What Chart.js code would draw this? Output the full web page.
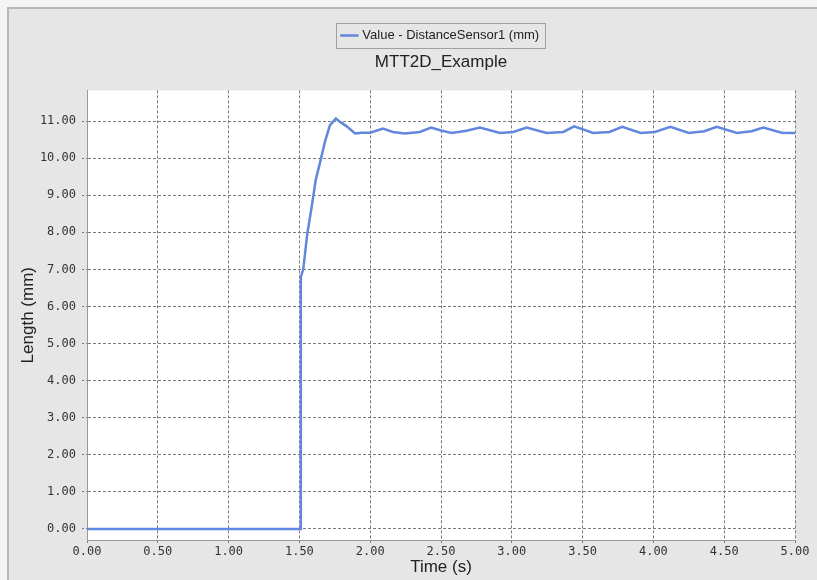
<!DOCTYPE html>
<html>
<head>
<meta charset="utf-8">
<script src="https://cdn.jsdelivr.net/npm/chart.js@4/dist/chart.umd.min.js"></script>
<style>
    html, body { margin: 0; padding: 0; background: #f4f4f4; }
    #wrap { width: 817px; height: 580px; position: relative; }
</style>
</head>
<body>
<div id="wrap"><canvas id="canvas-1" width="817" height="580"></canvas></div>
<script>
var seriesLabel = 'Value - DistanceSensor1 (mm)';
var chartTitle = 'MTT2D_Example';
var timeValues = [0, 1.505, 1.51, 1.527, 1.556, 1.587, 1.615, 1.65, 1.68, 1.716, 1.758, 1.787, 1.834, 1.893,
    1.94, 2.0, 2.09, 2.16, 2.245, 2.35, 2.43, 2.5, 2.575, 2.68, 2.775, 2.917, 3.01, 3.105, 3.246, 3.364,
    3.44, 3.575, 3.69, 3.78, 3.91, 4.01, 4.12, 4.25, 4.36, 4.447, 4.59, 4.694, 4.776, 4.906, 5.0];
var lengthValues = [0, 0, 6.8, 7.0, 7.97, 8.69, 9.41, 9.95, 10.44, 10.89, 11.07, 10.98, 10.86, 10.67,
    10.69, 10.69, 10.80, 10.71, 10.67, 10.71, 10.83, 10.75, 10.68, 10.74, 10.83, 10.68, 10.71, 10.83, 10.68, 10.71,
    10.86, 10.68, 10.71, 10.85, 10.68, 10.71, 10.85, 10.68, 10.73, 10.85, 10.68, 10.73, 10.83, 10.69, 10.68];
var yTickValues = [0, 1, 2, 3, 4, 5, 6, 7, 8, 9, 10, 11];

(function () {
    'use strict';

    var points = timeValues.map(function (t, i) {
        return {x: t, y: lengthValues[i]};
    });

    // frame + white plot area, plus the box round the legend
    var framePlugin = {
        id: 'frame',
        beforeDraw: function (chart) {
            var c = chart.ctx, a = chart.chartArea;
            c.save();
            c.fillStyle = '#f4f4f4';
            c.fillRect(0, 0, chart.width, chart.height);
            c.fillStyle = '#b8b8b8';
            c.fillRect(7, 7, chart.width - 7, chart.height - 7);
            c.fillStyle = '#e6e6e6';
            c.fillRect(9, 9, chart.width - 9, chart.height - 9);
            c.fillStyle = '#ffffff';
            c.fillRect(a.left, a.top, a.right - a.left, a.bottom - a.top);
            c.restore();
        },
        afterDraw: function (chart) {
            var c = chart.ctx, hb = chart.legend.legendHitBoxes[0];
            if (!hb) {
                return;
            }
            var cy = hb.top + hb.height / 2;
            c.save();
            c.strokeStyle = '#a0a0a0';
            c.lineWidth = 1;
            c.strokeRect(Math.round(hb.left - 7) + 0.5, Math.round(cy - 13) + 0.5,
                Math.round(hb.width + 13), 25);
            c.restore();
        }
    };

    var ctx = document.getElementById('canvas-1');
    //noinspection JSUnusedLocalSymbols
    var chart = new Chart(ctx, {
        type: 'line',
        data: {
            datasets: [
                {
                    label: seriesLabel,
                    data: points,
                    borderColor: '#6287de',
                    backgroundColor: '#6287de',
                    borderWidth: 2.5,
                    pointRadius: 0,
                    tension: 0,
                    fill: false
                }
            ]
        },
        options: {
            responsive: false,
            animation: false,
            layout: {
                padding: {left: 18, right: 22, top: 23, bottom: 2}
            },
            plugins: {
                legend: {
                    position: 'top',
                    weight: 3000,
                    fullSize: false,
                    labels: {
                        usePointStyle: true,
                        pointStyle: 'line',
                        boxWidth: 16,
                        padding: 6,
                        color: '#222',
                        font: {family: 'Liberation Sans', size: 13}
                    }
                },
                title: {
                    display: true,
                    text: chartTitle,
                    fullSize: false,
                    color: '#222',
                    font: {family: 'Liberation Sans', size: 17, weight: 'normal'},
                    padding: {top: 0, bottom: 18}
                },
                tooltip: {enabled: false}
            },
            scales: {
                x: {
                    type: 'linear',
                    min: 0,
                    max: 5,
                    afterFit: function (scale) {
                        scale.height = 38;
                    },
                    ticks: {
                        stepSize: 0.5,
                        padding: 0,
                        color: '#333',
                        font: {family: 'DejaVu Sans Mono', size: 12},
                        callback: function (v) {
                            return Number(v).toFixed(2);
                        }
                    },
                    grid: {
                        color: '#7a7a7a',
                        lineWidth: 1,
                        tickLength: 5,
                        tickColor: '#7a7a7a',
                        tickBorderDash: [2, 2]
                    },
                    border: {display: true, color: '#999', width: 1, dash: [3, 2]},
                    title: {
                        display: true,
                        text: 'Time (s)',
                        color: '#222',
                        padding: 0,
                        font: {family: 'Liberation Sans', size: 17}
                    }
                },
                y: {
                    type: 'linear',
                    min: -0.3,
                    max: 11.83,
                    afterFit: function (scale) {
                        scale.width = 69;
                    },
                    afterBuildTicks: function (scale) {
                        scale.ticks = yTickValues.map(function (v) {
                            return {value: v};
                        });
                    },
                    ticks: {
                        padding: 6,
                        color: '#333',
                        font: {family: 'DejaVu Sans Mono', size: 12},
                        callback: function (v) {
                            return Number(v).toFixed(2);
                        }
                    },
                    grid: {
                        color: '#7a7a7a',
                        lineWidth: 1,
                        tickLength: 5,
                        tickColor: '#7a7a7a',
                        tickBorderDash: [2, 2]
                    },
                    border: {display: true, color: '#999', width: 1, dash: [3, 2]},
                    title: {
                        display: true,
                        text: 'Length (mm)',
                        color: '#222',
                        padding: 0,
                        font: {family: 'Liberation Sans', size: 17}
                    }
                }
            }
        },
        plugins: [framePlugin]
    });
})();
</script>
</body>
</html>
